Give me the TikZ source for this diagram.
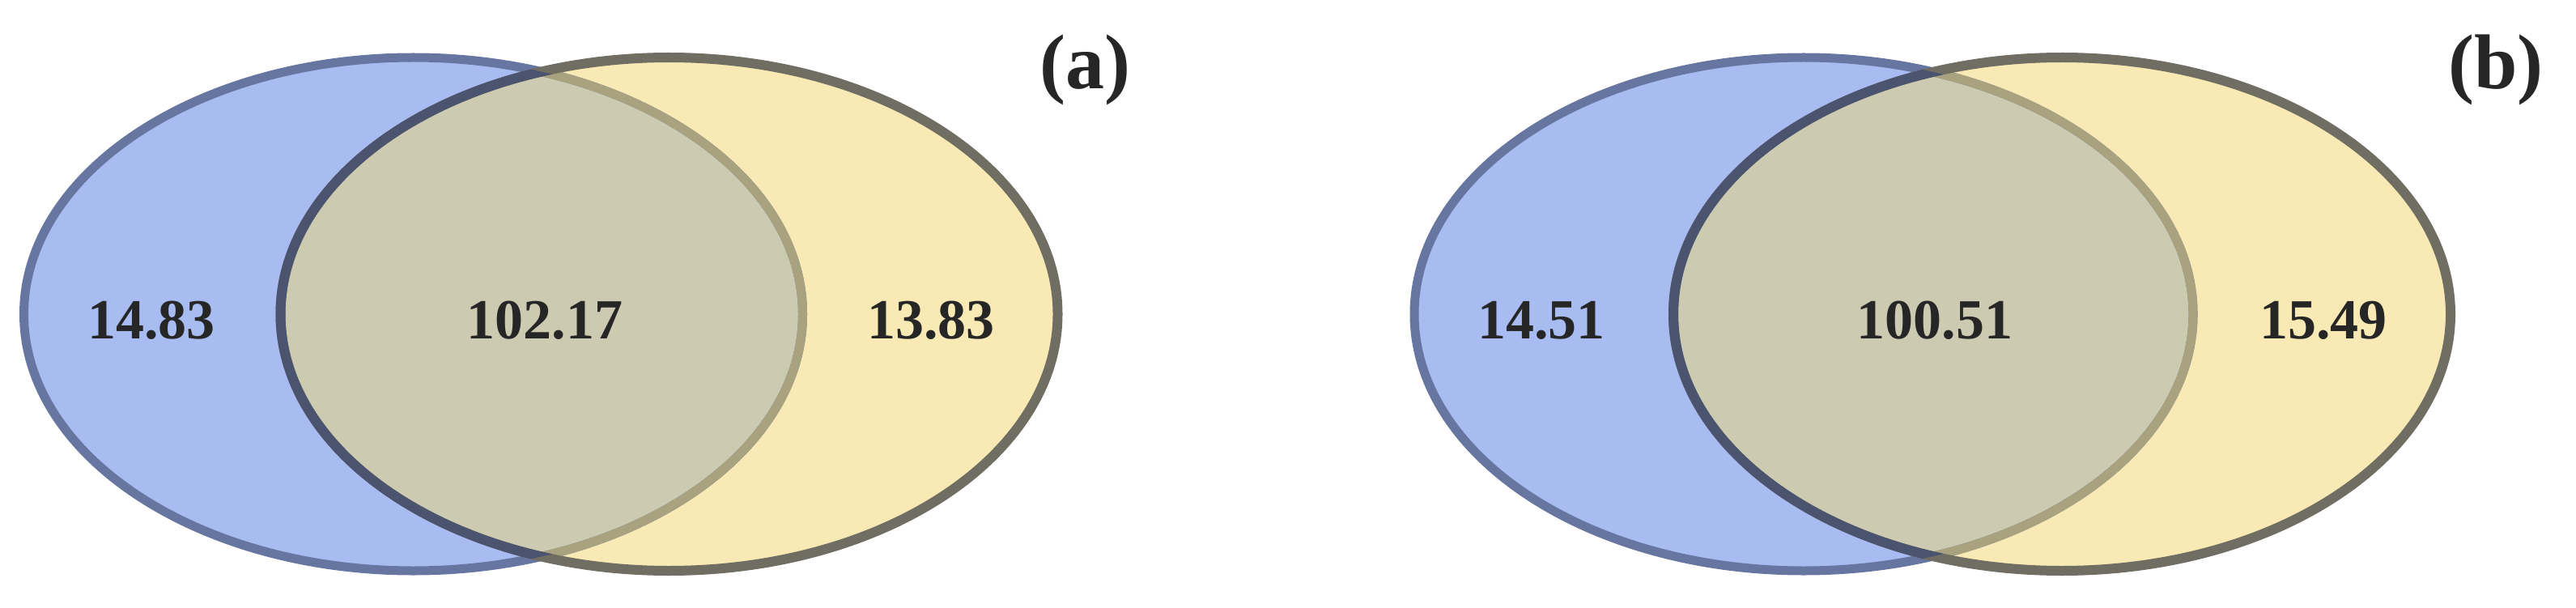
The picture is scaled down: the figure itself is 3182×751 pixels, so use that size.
\documentclass[tikz,border=0pt]{standalone}
\usepackage{fontspec}
\setmainfont{Liberation Serif}
\definecolor{bfill}{RGB}{168,188,242}
\definecolor{yfill}{RGB}{248,233,181}
\definecolor{ofill}{RGB}{204,202,177}
\definecolor{bline}{RGB}{103,118,160}
\definecolor{bline2}{RGB}{168,163,126}
\definecolor{yline}{RGB}{112,110,98}
\definecolor{yline2}{RGB}{74,84,110}
\definecolor{txt}{RGB}{38,38,38}
\newcommand\vennpair[2]{%
  \fill[bfill] (#1,388) ellipse [x radius=481pt, y radius=317pt];
  \fill[yfill] (#2,388) ellipse [x radius=480pt, y radius=317pt];
  \begin{scope}
    \clip (#1,388) ellipse [x radius=481pt, y radius=317pt];
    \fill[ofill] (#2,388) ellipse [x radius=480pt, y radius=317pt];
  \end{scope}
  \draw[bline, line width=11pt] (#1,388) ellipse [x radius=481pt, y radius=317pt];
  \begin{scope}
    \clip (#2,388) ellipse [x radius=480pt, y radius=317pt];
    \draw[bline2, line width=11pt] (#1,388) ellipse [x radius=481pt, y radius=317pt];
  \end{scope}
  \draw[yline, line width=12pt] (#2,388) ellipse [x radius=480pt, y radius=317pt];
  \begin{scope}
    \clip (#1,388) ellipse [x radius=481pt, y radius=317pt];
    \draw[yline2, line width=12pt] (#2,388) ellipse [x radius=480pt, y radius=317pt];
  \end{scope}
}
\begin{document}
\begin{tikzpicture}[x=1pt,y=-1pt,
  numlbl/.style={font=\fontsize{70}{84}\selectfont\bfseries, text=txt, anchor=base, inner sep=0pt},
  panellbl/.style={font=\fontsize{96}{110}\selectfont\bfseries, text=txt, anchor=base, inner sep=0pt}]
\useasboundingbox (0,0) rectangle (3182,751);
\vennpair{510.5}{826.5}
\vennpair{2228}{2547}
\node[numlbl] (la) at (187,418) {14.83};
\node[numlbl] (ca) at (673,418) {102.17};
\node[numlbl] (ra) at (1150,418) {13.83};
\node[numlbl] (lb) at (1904,418) {14.51};
\node[numlbl] (cb) at (2390,418) {100.51};
\node[numlbl] (rb) at (2870,418) {15.49};
\node[panellbl] (pa) at (1340,110) {(a)};
\node[panellbl] (pb) at (3083,110) {(b)};
\end{tikzpicture}
\end{document}
